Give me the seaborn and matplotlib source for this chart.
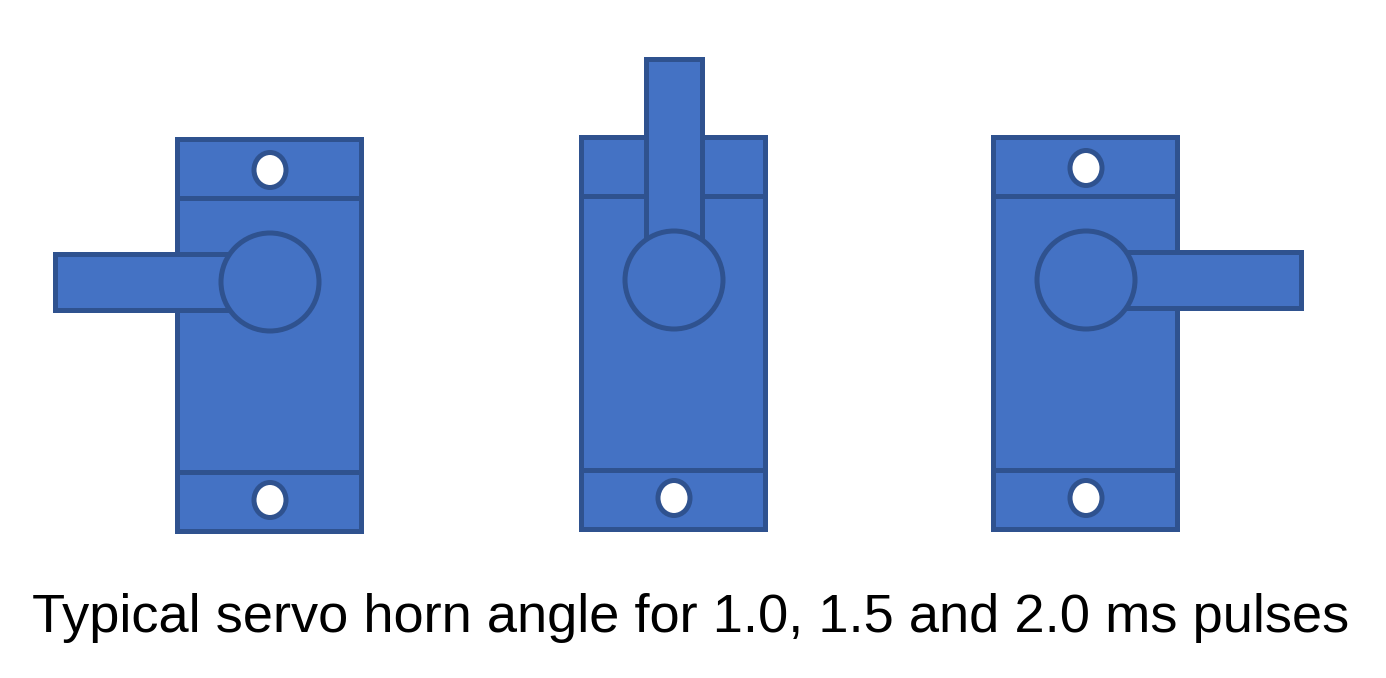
import matplotlib
matplotlib.use("Agg")
import matplotlib.pyplot as plt
import numpy as np
import seaborn as sns
from matplotlib.patches import Rectangle, Circle, Ellipse, Polygon

# pulse widths and the horn angle they give (degrees, 90 = straight up)
pulse_ms = [1.0, 1.5, 2.0]
horn_angle = [180, 90, 0]
horn_len = [215, 221, 215]
# where each servo body sits (centre x, top y) in pixel coordinates
servo_x = [269, 673, 1085]
servo_top = [139, 137, 137]

caption = "Typical servo horn angle for 1.0, 1.5 and 2.0 ms pulses"

FILL = "#4472C4"
EDGE = "#2F528F"
LW = 3.6

BODY_W, BODY_H = 184, 392
BAND_H = 59
HUB_OFF, HUB_R = 143, 49
HOLE_OFF, HOLE_W, HOLE_H = 31, 32, 35
HORN_W = 56


def draw_servo(ax, cx, top, angle, length):
    left = cx - BODY_W / 2
    ax.add_patch(Rectangle((left, top), BODY_W, BODY_H, facecolor=FILL, edgecolor=EDGE, lw=LW, zorder=1))
    for y in (top + BAND_H, top + BODY_H - BAND_H):
        ax.plot([left, left + BODY_W], [y, y], color=EDGE, lw=LW, zorder=2, solid_capstyle="butt")
    for y in (top + HOLE_OFF, top + BODY_H - HOLE_OFF):
        ax.add_patch(Ellipse((cx + 1, y), HOLE_W, HOLE_H, facecolor="white", edgecolor=EDGE, lw=LW, zorder=3))

    hub = np.array([cx + 1, top + HUB_OFF])
    th = np.deg2rad(angle)
    d = np.array([np.cos(th), -np.sin(th)])
    n = np.array([-d[1], d[0]])
    tip = hub + d * length
    pts = [hub + n * HORN_W / 2, tip + n * HORN_W / 2, tip - n * HORN_W / 2, hub - n * HORN_W / 2]
    ax.add_patch(Polygon(pts, closed=True, facecolor=FILL, edgecolor=EDGE, lw=LW, zorder=4, joinstyle="miter"))
    ax.add_patch(Circle(hub, HUB_R, facecolor=FILL, edgecolor=EDGE, lw=LW, zorder=5))


sns.set_theme(style="white")
fig = plt.figure(figsize=(13.86, 6.78), dpi=100)
ax = fig.add_axes([0, 0, 1, 1])
ax.set_xlim(0, 1386)
ax.set_ylim(678, 0)
ax.set_aspect("equal")
ax.axis("off")

for x, t, a, l in zip(servo_x, servo_top, horn_angle, horn_len):
    draw_servo(ax, x, t, a, l)

ax.text(691, 632, caption, ha="center", va="baseline", fontsize=39.1,
        family=["Liberation Sans", "DejaVu Sans"], color="black")

fig.savefig("out.png", dpi=100, facecolor="white")
